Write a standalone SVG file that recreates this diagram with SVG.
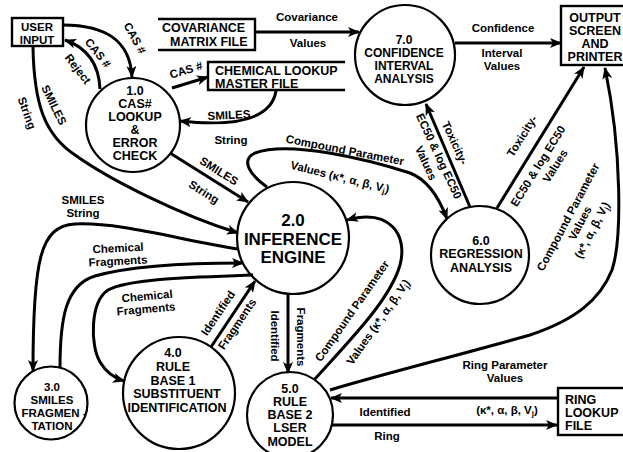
<svg xmlns="http://www.w3.org/2000/svg" width="623" height="452" viewBox="0 0 623 452">
<defs>
<marker id="ah" viewBox="0 0 12 10" refX="11" refY="5" markerWidth="12" markerHeight="10" markerUnits="userSpaceOnUse" orient="auto">
<path d="M0,0 L12,5 L0,10 L3,5 z" fill="#000"/>
</marker>
</defs>
<style>
.proc{fill:none;stroke:#000;stroke-width:2.2}
.box{fill:none;stroke:#000;stroke-width:2.4}
.n{font-family:"Liberation Sans",Arial,sans-serif;font-weight:bold;font-size:12.5px;text-anchor:middle;fill:#000}
.sm{font-size:11.5px}
.md{font-size:12px}
.big{font-size:17px}
.lft{text-anchor:start}
.l{font-family:"Liberation Sans",Arial,sans-serif;font-weight:bold;font-size:11.5px;text-anchor:middle;dominant-baseline:central;fill:#000}
.sub{font-size:8px}
#connectors path{fill:none;stroke:#000;stroke-width:3}
.arr{marker-end:url(#ah)}
</style>
<rect width="623" height="452" fill="#fff"/>

<!-- external entities and stores -->
<g id="user-input">
<rect class="box" x="12" y="18" width="51" height="28"/>
<text class="n sm" x="37" y="31">USER</text>
<text class="n sm" x="37" y="44">INPUT</text>
</g>
<g id="covariance-file">
<path class="box" d="M158,19 H255 V50 H158"/>
<text class="n lft" x="162" y="32">COVARIANCE</text>
<text class="n lft" x="170" y="46">MATRIX FILE</text>
</g>
<g id="chemical-lookup-file">
<path class="box" d="M345,62 H208 V90 H345"/>
<text class="n lft" x="215" y="75">CHEMICAL LOOKUP</text>
<text class="n lft" x="215" y="88">MASTER FILE</text>
</g>
<g id="output">
<rect class="box" x="561" y="6" width="70" height="59"/>
<text class="n" x="595" y="22">OUTPUT</text>
<text class="n" x="595" y="35">SCREEN</text>
<text class="n" x="595" y="48">AND</text>
<text class="n" x="595" y="61">PRINTER</text>
</g>
<g id="ring-lookup-file">
<rect class="box" x="558" y="388" width="70" height="47"/>
<text class="n lft" x="565" y="404">RING</text>
<text class="n lft" x="565" y="417">LOOKUP</text>
<text class="n lft" x="565" y="430">FILE</text>
</g>

<!-- processes -->
<g id="p1">
<circle class="proc" cx="133" cy="125" r="47"/>
<text class="n" x="135" y="95">1.0</text>
<text class="n" x="135" y="108">CAS#</text>
<text class="n" x="135" y="121">LOOKUP</text>
<text class="n" x="135" y="134">&amp;</text>
<text class="n" x="135" y="147">ERROR</text>
<text class="n" x="135" y="160">CHECK</text>
</g>
<g id="p2">
<circle class="proc" cx="293" cy="238" r="56"/>
<text class="n big" x="293" y="226">2.0</text>
<text class="n big" x="293" y="245">INFERENCE</text>
<text class="n big" x="293" y="263">ENGINE</text>
</g>
<g id="p3">
<circle class="proc" cx="51" cy="403" r="36.5"/>
<text class="n sm" x="52" y="391">3.0</text>
<text class="n sm" x="52" y="404">SMILES</text>
<text class="n sm" x="54" y="417">FRAGMEN -</text>
<text class="n sm" x="52" y="430">TATION</text>
</g>
<g id="p4">
<circle class="proc" cx="179" cy="393" r="56"/>
<text class="n" x="173" y="357">4.0</text>
<text class="n" x="173" y="371">RULE</text>
<text class="n" x="173" y="385">BASE 1</text>
<text class="n" x="177" y="398">SUBSTITUENT</text>
<text class="n" x="177" y="412">IDENTIFICATION</text>
</g>
<g id="p5">
<circle class="proc" cx="290" cy="415" r="43"/>
<text class="n" x="290" y="393">5.0</text>
<text class="n" x="290" y="406">RULE</text>
<text class="n" x="290" y="419">BASE 2</text>
<text class="n" x="290" y="432">LSER</text>
<text class="n" x="290" y="446">MODEL</text>
</g>
<g id="p6">
<circle class="proc" cx="480" cy="255" r="49"/>
<text class="n" x="481" y="245">6.0</text>
<text class="n" x="481" y="258">REGRESSION</text>
<text class="n" x="481" y="272">ANALYSIS</text>
</g>
<g id="p7">
<circle class="proc" cx="405" cy="55" r="50"/>
<text class="n md" x="404" y="44">7.0</text>
<text class="n md" x="404" y="57">CONFIDENCE</text>
<text class="n md" x="404" y="70">INTERVAL</text>
<text class="n md" x="404" y="83">ANALYSIS</text>
</g>

<!-- data flows -->
<g id="connectors">
<!-- user input -> 1.0 -->
<path class="arr" d="M63,25 C105,25 130,40 132,77"/>
<text class="l" transform="translate(135,38) rotate(61)">CAS #</text>
<!-- 1.0 -> user input -->
<path class="arr" d="M100,89 C99,65 88,48 65,40"/>
<text class="l" transform="translate(98,53) rotate(51)">CAS #</text>
<text class="l" transform="translate(78,69) rotate(52)">Reject</text>
<!-- user input -> 2.0 -->
<path class="arr" d="M33,47 C34,105 45,135 75,155 C110,180 180,215 238,233"/>
<text class="l" transform="translate(54,105) rotate(64)">SMILES</text>
<text class="l" transform="translate(27,113) rotate(70)">String</text>
<!-- 1.0 -> chemical lookup -->
<path class="arr" d="M172,88 L208,77"/>
<text class="l" transform="translate(186,70) rotate(-17)">CAS #</text>
<!-- chemical lookup -> 1.0 -->
<path class="arr" d="M276,91 C272,115 245,128 180,121"/>
<text class="l" transform="translate(229,115) rotate(-3)">SMILES</text>
<text class="l" x="231" y="140">String</text>
<!-- 1.0 -> 2.0 -->
<path class="arr" d="M170,153 L248,202"/>
<text class="l" transform="translate(219,171) rotate(32)">SMILES</text>
<text class="l" transform="translate(204,192) rotate(32)">String</text>
<!-- covariance -> 7.0 -->
<path class="arr" d="M255,32 L359,32"/>
<text class="l" x="307" y="17">Covariance</text>
<text class="l" x="308" y="43">Values</text>
<!-- 7.0 -> output -->
<path class="arr" d="M455,43 L561,43"/>
<text class="l" x="503" y="28">Confidence</text>
<text class="l" x="502" y="53">Interval</text>
<text class="l" x="502" y="66">Values</text>
<!-- 2.0 -> 6.0 -->
<path class="arr" d="M267,187 C250,175 240,160 255,153 C290,140 370,160 410,173 C428,180 440,200 447,219"/>
<text class="l" transform="translate(345,150) rotate(11)">Compound Parameter</text>
<text class="l" transform="translate(340,177) rotate(14)">Values (κ*, α, β, V<tspan class="sub" dy="3">j</tspan><tspan dy="-3">)</tspan></text>
<!-- 6.0 -> 7.0 -->
<path class="arr" d="M470,207 L426,104"/>
<text class="l" transform="translate(455,143) rotate(65)">Toxicity-</text>
<text class="l" transform="translate(439,156) rotate(65)">EC50 &amp; log EC50</text>
<text class="l" transform="translate(426,163) rotate(65)">Values</text>
<!-- 6.0 -> output -->
<path class="arr" d="M497,208 L584,67"/>
<text class="l" transform="translate(522,136) rotate(-58)">Toxicity-</text>
<text class="l" transform="translate(538,166) rotate(-58)">EC50 &amp; log EC50</text>
<text class="l" transform="translate(555,166) rotate(-58)">Values</text>
<!-- 2.0 -> 3.0 -->
<path class="arr" d="M238,249 C180,240 120,222 75,224 C40,226 33,260 33,371"/>
<text class="l" x="83" y="200">SMILES</text>
<text class="l" x="83" y="213">String</text>
<!-- 3.0 -> 2.0 -->
<path class="arr" d="M60,368 C60,320 65,285 95,276 C130,266 190,263 243,263"/>
<text class="l" transform="translate(118,248) rotate(-3)">Chemical</text>
<text class="l" transform="translate(118,261) rotate(-3)">Fragments</text>
<!-- 2.0 -> 4.0 -->
<path class="arr" d="M253,275 C200,277 130,278 108,290 C90,302 90,345 100,362 C106,372 114,378 124,381"/>
<text class="l" transform="translate(147,296) rotate(-5)">Chemical</text>
<text class="l" transform="translate(146,309) rotate(-5)">Fragments</text>
<!-- 4.0 -> 2.0 -->
<path class="arr" d="M211,347 L255,281"/>
<text class="l" transform="translate(218,313) rotate(-56)">Identified</text>
<text class="l" transform="translate(237,324) rotate(-56)">Fragments</text>
<!-- 2.0 -> 5.0 -->
<path class="arr" d="M288,294 L288,373"/>
<text class="l" transform="translate(275,336) rotate(90)">Identified</text>
<text class="l" transform="translate(301,337) rotate(90)">Fragments</text>
<!-- 5.0 -> 2.0 -->
<path class="arr" d="M314,380 C350,340 390,300 400,265 C408,235 390,208 347,220"/>
<text class="l" transform="translate(352,311) rotate(-55)">Compound Parameter</text>
<text class="l" transform="translate(378,322) rotate(-55)">Values (κ*, α, β, V<tspan class="sub" dy="3">j</tspan><tspan dy="-3">)</tspan></text>
<!-- 5.0 -> output -->
<path class="arr" d="M330,390 C390,372 460,355 530,335 C575,320 600,300 612,270 C622,240 622,150 605,68"/>
<text class="l" transform="translate(568,217) rotate(-62)">Compound Parameter</text>
<text class="l" transform="translate(580,223) rotate(-62)">Values</text>
<text class="l" transform="translate(592,230) rotate(-62)">(κ*, α, β, V<tspan class="sub" dy="3">j</tspan><tspan dy="-3">)</tspan></text>
<!-- ring lookup -> 5.0 -->
<path class="arr" d="M558,398 L331,398"/>
<text class="l" x="505" y="365">Ring Parameter</text>
<text class="l" x="505" y="378">Values</text>
<text class="l" x="507" y="410">(κ*, α, β, V<tspan class="sub" dy="3">j</tspan><tspan dy="-3">)</tspan></text>
<!-- 5.0 -> ring lookup -->
<path class="arr" d="M331,425 L557,425"/>
<text class="l" x="385" y="412">Identified</text>
<text class="l" x="387" y="436">Ring</text>
</g>
</svg>
